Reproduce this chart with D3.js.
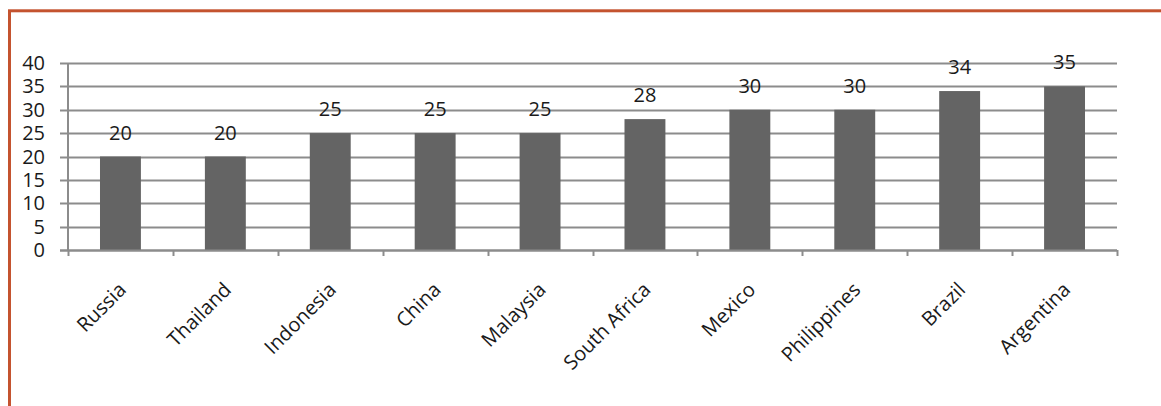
<!DOCTYPE html>
<html>
<head>
<meta charset="utf-8">
<script src="https://cdn.jsdelivr.net/npm/d3@7"></script>
<style>
  body { margin: 0; background: #fff; }
  text { font-family: "Open Sans", sans-serif; fill: #1a1a1a; }
</style>
</head>
<body>
<script>
  // data
  const countries = ["Russia", "Thailand", "Indonesia", "China", "Malaysia",
    "South Africa", "Mexico", "Philippines", "Brazil", "Argentina"];
  const values = [20, 20, 25, 25, 25, 28, 30, 30, 34, 35];
  const yTicks = [0, 5, 10, 15, 20, 25, 30, 35, 40];

  const w = 1161, h = 406;
  const plotLeft = 68, plotRight = 1117, plotTop = 63, plotBottom = 250;

  const svg = d3.select("body").append("svg").attr("width", w).attr("height", h);

  // outer frame
  svg.append("rect")
    .attr("x", 9.5).attr("y", 10.8)
    .attr("width", w + 20).attr("height", h + 20)
    .attr("fill", "none").attr("stroke", "#c4532f").attr("stroke-width", 3);

  const x = d3.scaleBand().domain(countries).range([plotLeft, plotRight]).paddingInner(0.61).paddingOuter(0.305);
  const xTick = d3.scaleLinear().domain([0, countries.length]).range([plotLeft, plotRight]);
  const y = d3.scaleLinear().domain([0, 40]).range([plotBottom, plotTop]);

  // gridlines + y ticks
  svg.append("g").selectAll("line").data(yTicks).enter().append("line")
    .attr("x1", plotLeft - 8).attr("x2", plotRight)
    .attr("y1", (d) => Math.round(y(d)) + 0.5).attr("y2", (d) => Math.round(y(d)) + 0.5)
    .attr("stroke", "#8c8c8c").attr("stroke-width", 2);

  svg.append("g").selectAll("text").data(yTicks).enter().append("text")
    .attr("x", 45).attr("y", (d) => y(d) + 7)
    .attr("text-anchor", "end").attr("font-size", 20)
    .text((d) => d);

  // y axis line
  svg.append("line").attr("x1", plotLeft).attr("x2", plotLeft).attr("y1", plotTop).attr("y2", plotBottom)
    .attr("stroke", "#8c8c8c").attr("stroke-width", 2);

  // x ticks
  svg.append("g").selectAll("line").data(d3.range(countries.length + 1)).enter().append("line")
    .attr("x1", (d) => Math.round(xTick(d)) + 0.5).attr("x2", (d) => Math.round(xTick(d)) + 0.5)
    .attr("y1", plotBottom).attr("y2", plotBottom + 6)
    .attr("stroke", "#8c8c8c").attr("stroke-width", 2);

  // bars
  svg.append("g").selectAll("rect").data(values).enter().append("rect")
    .attr("x", (d, i) => x(countries[i]))
    .attr("y", (d) => y(d))
    .attr("width", x.bandwidth())
    .attr("height", (d) => plotBottom - y(d))
    .attr("fill", "#646464");

  // x axis line on top of bars
  svg.append("line").attr("x1", plotLeft - 8).attr("x2", plotRight)
    .attr("y1", plotBottom + 0.5).attr("y2", plotBottom + 0.5)
    .attr("stroke", "#8c8c8c").attr("stroke-width", 2);

  // value labels
  svg.append("g").selectAll("text").data(values).enter().append("text")
    .attr("x", (d, i) => x(countries[i]) + x.bandwidth() / 2)
    .attr("y", (d) => y(d) - 17)
    .attr("text-anchor", "middle").attr("font-size", 20)
    .text((d) => d);

  // category labels
  svg.append("g").selectAll("text").data(countries).enter().append("text")
    .attr("text-anchor", "end").attr("font-size", 20)
    .attr("transform", (d) => {
      const cx = x(d) + x.bandwidth() / 2 + 7;
      return "translate(" + cx + "," + (plotBottom + 41) + ") rotate(-45)";
    })
    .text((d) => d);
</script>
</body>
</html>
